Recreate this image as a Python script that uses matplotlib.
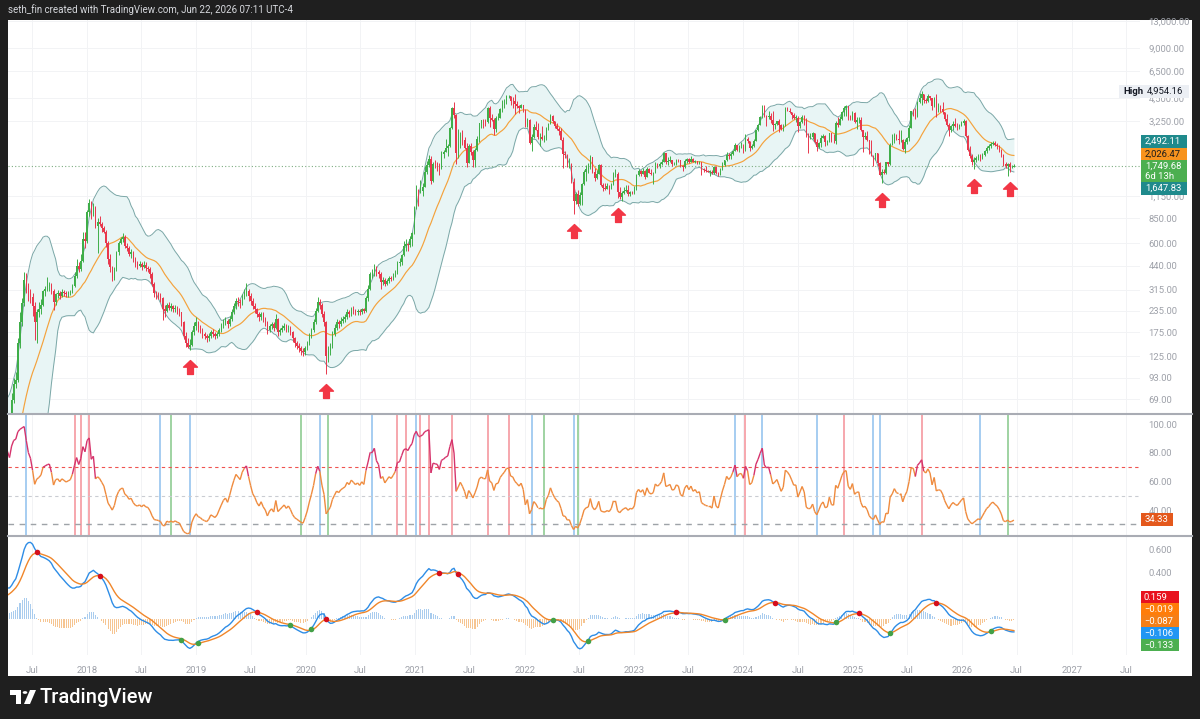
import numpy as np
import pandas as pd
import matplotlib
matplotlib.use("Agg")
import matplotlib.pyplot as plt
import matplotlib.dates as mdates
import matplotlib.transforms as mtransforms
from matplotlib.collections import LineCollection
from matplotlib.patches import Rectangle, Polygon, Circle
from matplotlib.lines import Line2D
from matplotlib.path import Path
from matplotlib.ticker import FuncFormatter, NullLocator

plt.rcParams['font.family'] = ['Roboto', 'DejaVu Sans']

W, H = 1200, 719
BG = '#1f1f1f'
UP, DOWN = '#3fae49', '#e8374c'

# ---------------- data (weekly candles) ----------------
first_week = '2017-04-24'

# closes before the first visible week (only feed the indicators)
warmup_close = [20, 24, 19, 18, 17, 18, 19, 18, 17, 17, 17, 17.5, 18, 18, 18.5,
                19, 19, 18.5, 18.5, 18, 17.5, 17, 17, 16.5, 16.5, 16, 16, 16, 16, 16.5,
                17, 18, 19, 22, 27, 33, 38, 42, 44, 40, 45, 48, 44, 49, 52, 50]

close = [
    68, 85, 90, 150, 200, 260, 360, 330, 300, 285,
    250, 200, 230, 240, 255, 310, 320, 330, 335, 310,
    265, 295, 300, 290, 305, 300, 295, 300, 305, 330,
    380, 440, 420, 470, 640, 620, 920, 1050, 900, 980,
    760, 800, 780, 740, 700, 600, 480, 430, 370, 420,
    530, 600, 640, 650, 580, 560, 520, 530, 480, 450,
    440, 450, 430, 445, 425, 420, 390, 340, 300, 295,
    290, 280, 240, 235, 255, 245, 250, 240, 245, 235,
    230, 200, 165, 150, 143, 146, 175, 190, 200, 185,
    180, 170, 165, 160, 165, 175, 170, 165, 170, 180,
    190, 200, 205, 195, 210, 230, 250, 270, 265, 260,
    285, 300, 310, 290, 270, 250, 240, 225, 215, 225,
    210, 200, 180, 190, 195, 185, 210, 175, 180, 185,
    190, 180, 185, 175, 160, 150, 145, 140, 135, 132,
    140, 150, 165, 180, 200, 235, 265, 255, 225, 200,
    125, 135, 145, 170, 185, 200, 195, 205, 210, 215,
    230, 225, 240, 235, 230, 235, 230, 240, 235, 280,
    320, 390, 390, 430, 400, 390, 350, 360, 340, 355,
    370, 365, 380, 400, 455, 460, 510, 575, 590, 585,
    640, 690, 975, 1260, 1230, 1230, 1310, 1610, 1780, 1935,
    1420, 1800, 1790, 1780, 1700, 2080, 2140, 2240, 2300, 2950,
    3900, 3570, 2100, 2380, 2710, 2510, 2250, 1830, 2320, 2130,
    1890, 2190, 2560, 3160, 3310, 3240, 3230, 3940, 3410, 3330,
    2930, 3390, 3420, 3850, 4080, 4290, 4610, 4640, 4320, 4290,
    4110, 4020, 3920, 4070, 3830, 3090, 3330, 2410, 2610, 3020,
    2880, 2620, 2620, 2550, 2580, 2950, 3140, 3520, 3260, 3060,
    2920, 2830, 2520, 2060, 2040, 1790, 1800, 1400, 1080, 1180,
    1040, 1170, 1360, 1600, 1680, 1700, 1990, 1620, 1490, 1570,
    1770, 1340, 1290, 1280, 1320, 1280, 1360, 1570, 1570, 1220,
    1140, 1200, 1240, 1260, 1180, 1220, 1200, 1260, 1550, 1630,
    1570, 1630, 1510, 1690, 1590, 1560, 1590, 1790, 1750, 1790,
    1860, 2090, 1850, 1870, 1900, 1800, 1810, 1910, 1890, 1750,
    1720, 1870, 1930, 1860, 1930, 1850, 1880, 1830, 1850, 1680,
    1650, 1630, 1620, 1620, 1590, 1730, 1580, 1550, 1660, 1780,
    1890, 2050, 2010, 2060, 2170, 2350, 2200, 2270, 2280, 2220,
    2530, 2470, 2260, 2300, 2490, 2880, 3110, 3470, 3880, 3520,
    3450, 3500, 3320, 3080, 3150, 3250, 3100, 2940, 3070, 3830,
    3780, 3700, 3570, 3420, 3430, 3060, 3240, 3440, 3270, 2680,
    2610, 2620, 2750, 2430, 2280, 2420, 2580, 2660, 2440, 2460,
    2750, 2480, 2460, 3180, 3080, 3360, 3710, 3940, 4000, 3480,
    3360, 3640, 3210, 3300, 3320, 2870, 2630, 2660, 2500, 2170,
    2020, 1960, 2090, 1820, 1550, 1620, 1590, 1840, 1810, 2350,
    2470, 2680, 2540, 2510, 2510, 2230, 2430, 2580, 2970, 3760,
    3750, 3490, 4270, 4480, 4780, 4380, 4310, 4620, 4470, 4000,
    4480, 3830, 3900, 3880, 3700, 3350, 3100, 2880, 3050, 3150,
    3050, 3000, 3100, 3200, 3280, 2650, 2200, 2000, 1850, 1900,
    1950, 2000, 1950, 2050, 2150, 2250, 2300, 2380, 2420, 2350,
    2300, 2200, 2050, 1800, 1760, 1790, 1720, 1730, 1749.68,
]

high = [
    75, 92, 100, 160, 230, 280, 400, 395, 345, 320,
    300, 265, 240, 265, 275, 315, 330, 375, 350, 345,
    320, 300, 315, 310, 320, 315, 310, 310, 315, 340,
    400, 480, 460, 520, 700, 700, 950, 1110, 1080, 1050,
    1000, 850, 870, 800, 760, 720, 620, 520, 440, 430,
    540, 620, 650, 690, 670, 600, 575, 550, 540, 495,
    470, 470, 465, 470, 460, 440, 430, 400, 350, 310,
    305, 300, 285, 255, 260, 265, 260, 255, 255, 250,
    245, 232, 205, 175, 160, 158, 180, 200, 215, 205,
    192, 185, 175, 170, 172, 180, 182, 175, 176, 185,
    198, 210, 215, 210, 218, 240, 262, 280, 285, 275,
    295, 320, 345, 320, 300, 280, 262, 245, 232, 232,
    230, 215, 205, 196, 202, 200, 225, 212, 185, 192,
    198, 195, 192, 190, 178, 163, 155, 150, 145, 140,
    145, 155, 172, 185, 210, 245, 285, 275, 260, 235,
    205, 145, 150, 178, 195, 210, 208, 215, 218, 225,
    240, 238, 248, 250, 242, 242, 240, 245, 245, 290,
    335, 400, 420, 450, 440, 415, 400, 375, 370, 365,
    380, 380, 395, 415, 470, 490, 520, 620, 635, 600,
    665, 700, 1000, 1350, 1280, 1440, 1380, 1750, 1880, 2040,
    2000, 1860, 1900, 1850, 1820, 2150, 2200, 2560, 2370, 2990,
    3990, 4270, 3600, 2910, 2800, 2880, 2620, 2400, 2380, 2410,
    2200, 2250, 2650, 3180, 3330, 3340, 3380, 3960, 4000, 3600,
    3400, 3480, 3640, 3900, 4370, 4460, 4660, 4720, 4650, 4560,
    4780, 4320, 4100, 4150, 4100, 3850, 3410, 3350, 2740, 3150,
    3280, 3200, 2760, 3040, 2700, 3000, 3200, 3580, 3550, 3290,
    3180, 3000, 2970, 2600, 2160, 2060, 1960, 1820, 1480, 1220,
    1250, 1220, 1380, 1650, 1780, 1820, 2030, 1990, 1700, 1660,
    1790, 1790, 1390, 1390, 1380, 1340, 1380, 1620, 1680, 1600,
    1300, 1230, 1300, 1350, 1340, 1230, 1230, 1330, 1560, 1680,
    1660, 1700, 1650, 1720, 1700, 1680, 1600, 1840, 1830, 1840,
    1940, 2140, 2100, 1970, 2010, 1910, 1850, 1920, 1930, 1890,
    1780, 1930, 1950, 1960, 2020, 1960, 1890, 1880, 1870, 1860,
    1700, 1750, 1650, 1660, 1660, 1750, 1750, 1600, 1700, 1860,
    1900, 2140, 2090, 2130, 2190, 2400, 2350, 2350, 2440, 2360,
    2720, 2600, 2470, 2390, 2530, 2900, 3120, 3520, 4090, 4090,
    3550, 3730, 3660, 3730, 3200, 3290, 3350, 3120, 3130, 3950,
    3980, 3890, 3720, 3630, 3550, 3520, 3280, 3560, 3550, 3400,
    2760, 2780, 2800, 2760, 2550, 2440, 2700, 2730, 2700, 2500,
    2770, 2760, 2720, 3250, 3450, 3500, 3740, 4000, 4100, 4000,
    3540, 3740, 3700, 3450, 3450, 3440, 2870, 2820, 2850, 2500,
    2500, 2030, 2100, 2100, 1850, 1690, 1690, 1850, 1860, 2400,
    2730, 2770, 2730, 2880, 2880, 2550, 2530, 2620, 3080, 3780,
    3860, 3940, 4330, 4790, 4954.16, 4780, 4500, 4770, 4650, 4500,
    4550, 4750, 4200, 4100, 4250, 3700, 3600, 3200, 3100, 3250,
    3400, 3200, 3150, 3250, 3350, 3300, 2700, 2300, 2080, 1980,
    2020, 2080, 2060, 2100, 2200, 2300, 2380, 2430, 2480, 2460,
    2400, 2330, 2230, 2080, 1850, 1820, 1850, 1780, 1800,
]

low = [
    48, 65, 80, 88, 140, 190, 250, 300, 270, 260,
    220, 157, 150, 215, 225, 250, 290, 310, 310, 295,
    238, 255, 280, 275, 285, 290, 285, 285, 292, 300,
    325, 370, 400, 410, 460, 560, 600, 880, 840, 880,
    740, 523, 760, 700, 690, 570, 450, 400, 355, 360,
    410, 510, 590, 610, 560, 540, 500, 490, 460, 430,
    420, 430, 415, 425, 410, 400, 370, 330, 285, 275,
    275, 265, 207, 215, 230, 238, 235, 232, 232, 225,
    220, 190, 158, 143, 140, 137, 144, 168, 180, 175,
    172, 162, 158, 152, 155, 160, 164, 158, 160, 166,
    176, 185, 192, 185, 190, 205, 225, 240, 250, 245,
    255, 275, 290, 270, 255, 240, 228, 215, 205, 208,
    200, 190, 170, 175, 183, 178, 182, 165, 168, 175,
    180, 174, 175, 168, 152, 143, 138, 133, 128, 126,
    128, 136, 146, 160, 176, 195, 230, 240, 215, 190,
    98, 115, 128, 140, 165, 180, 185, 190, 198, 202,
    210, 215, 220, 225, 222, 222, 222, 225, 228, 232,
    270, 315, 370, 380, 380, 370, 320, 335, 330, 335,
    345, 355, 360, 375, 390, 440, 445, 500, 540, 540,
    570, 580, 680, 960, 1000, 1200, 1160, 1300, 1560, 1730,
    1370, 1410, 1700, 1640, 1550, 1690, 1950, 2120, 2000, 2280,
    2940, 3430, 1800, 1950, 2250, 2330, 2220, 1720, 1820, 2050,
    1720, 1730, 2170, 2450, 2960, 2950, 3060, 3200, 3000, 3270,
    2700, 2800, 3300, 3400, 3700, 3900, 4150, 4500, 4100, 3930,
    3600, 3900, 3650, 3900, 3680, 3000, 3000, 2380, 2160, 2580,
    2870, 2560, 2300, 2520, 2450, 2500, 2880, 3130, 3170, 2950,
    2890, 2700, 2500, 1700, 1950, 1730, 1700, 1380, 900, 1040,
    1000, 1020, 1020, 1350, 1420, 1580, 1680, 1580, 1420, 1470,
    1560, 1330, 1240, 1260, 1270, 1190, 1270, 1350, 1500, 1120,
    1110, 1070, 1190, 1220, 1160, 1160, 1190, 1190, 1260, 1520,
    1530, 1560, 1460, 1500, 1580, 1540, 1370, 1580, 1700, 1700,
    1780, 1850, 1800, 1780, 1840, 1740, 1780, 1770, 1860, 1720,
    1630, 1710, 1820, 1830, 1850, 1840, 1820, 1810, 1800, 1550,
    1610, 1610, 1600, 1530, 1570, 1570, 1570, 1520, 1540, 1650,
    1760, 1880, 1940, 1930, 2040, 2160, 2150, 2140, 2260, 2100,
    2170, 2410, 2170, 2230, 2280, 2470, 2850, 3080, 3420, 3460,
    3060, 3380, 3200, 2850, 2920, 3080, 2820, 2870, 2860, 3060,
    3740, 3630, 3350, 3360, 3240, 2820, 2980, 3200, 3100, 2630,
    2110, 2560, 2540, 2400, 2150, 2260, 2270, 2570, 2310, 2350,
    2440, 2440, 2420, 2360, 3000, 3080, 3300, 3500, 3520, 3300,
    3310, 3300, 3160, 2920, 3160, 2850, 2120, 2550, 2470, 2080,
    2000, 1760, 1890, 1760, 1540, 1390, 1560, 1570, 1750, 1780,
    2350, 2420, 2500, 2380, 2430, 2180, 2110, 2370, 2490, 2950,
    3500, 3350, 3450, 4200, 4070, 4200, 4220, 4270, 4400, 3820,
    3980, 3450, 3710, 3700, 3600, 3250, 3050, 2650, 2800, 2900,
    3000, 2900, 2920, 3050, 3100, 2600, 2150, 1950, 1780, 1680,
    1850, 1900, 1880, 1920, 2000, 2100, 2200, 2250, 2330, 2300,
    2230, 2120, 1980, 1750, 1700, 1530, 1610, 1700, 1720,
]

# signal events
rsi_red_weeks = ['2017-11-20', '2017-12-11', '2018-01-08', '2020-11-02', '2020-11-30',
                 '2021-01-18', '2021-02-15', '2021-05-03', '2021-08-30', '2021-11-08',
                 '2024-01-08', '2024-12-02', '2025-08-18']
rsi_blue_weeks = ['2017-06-12', '2018-09-03', '2018-12-10', '2020-02-17', '2020-08-10',
                  '2021-01-04', '2022-01-24', '2022-06-13', '2023-12-04', '2024-03-04',
                  '2024-09-02', '2025-03-10', '2025-03-31', '2026-03-02']
rsi_green_weeks = ['2018-10-08', '2019-12-16', '2020-03-16', '2022-03-07', '2022-06-27',
                   '2026-06-01']
macd_red_weeks = ['2017-07-17', '2018-02-12', '2019-07-22', '2020-03-09', '2021-03-22',
                  '2021-05-24', '2023-05-22', '2024-04-15', '2025-01-20', '2025-10-06']
macd_green_weeks = ['2018-11-12', '2019-01-07', '2019-11-11', '2020-01-20', '2022-04-04',
                    '2022-08-01', '2023-10-30', '2024-11-04', '2025-05-05', '2026-04-06']
arrow_weeks = ['2018-12-10', '2020-03-09', '2022-06-13', '2022-11-07', '2025-04-07',
               '2026-02-09', '2026-06-08']

price_ticks = [69, 93, 125, 175, 235, 315, 440, 600, 850, 1150, 3250, 4500, 6500, 9000, 13000]
rsi_ticks = [100, 80, 60, 40]
macd_ticks = [0.6, 0.4]

# ---------------- indicators ----------------
n_warm = len(warmup_close)
start = pd.Timestamp(first_week)
all_dates = pd.date_range(end=start - pd.Timedelta(days=7), periods=n_warm, freq='7D').append(
    pd.date_range(start, periods=len(close), freq='7D'))
x_all = mdates.date2num(all_dates.to_pydatetime())
x_c = x_all[n_warm:]

all_close = np.array(warmup_close + close, dtype=float)

# bollinger bands on log price
lg = pd.Series(np.log10(all_close))
basis = lg.rolling(20).mean()
dev = lg.rolling(20).std(ddof=0)
bb_mid = 10 ** basis
bb_up = 10 ** (basis + 2 * dev)
bb_lo = 10 ** (basis - 2 * dev)

# macd on ln price
ln = pd.Series(np.log(all_close))
macd = ln.ewm(span=12, adjust=False).mean() - ln.ewm(span=26, adjust=False).mean()
signal = macd.ewm(span=9, adjust=False).mean()
hist = (macd - signal).values
macd = macd.values
signal = signal.values

delta = pd.Series(all_close).diff()
avg_g = delta.clip(lower=0).ewm(alpha=1 / 14, adjust=False).mean()
avg_l = (-delta.clip(upper=0)).ewm(alpha=1 / 14, adjust=False).mean()
rsi = (100 - 100 / (1 + avg_g / avg_l)).values

cl = np.array(close, dtype=float)
op = np.r_[warmup_close[-1], cl[:-1]]
hi = np.maximum.reduce([np.array(high, dtype=float), op, cl])
lo = np.minimum.reduce([np.array(low, dtype=float), op, cl])


def week_num(d):
    return mdates.date2num(pd.Timestamp(d).to_pydatetime())


def week_idx(d):
    return all_dates.get_loc(pd.Timestamp(d))


# ---------------- figure ----------------
fig = plt.figure(figsize=(W / 100, H / 100), dpi=100, facecolor=BG)


def rect(x0, y0, x1, y1):
    return [x0 / W, 1 - y1 / H, (x1 - x0) / W, (y1 - y0) / H]


fig.patches.append(Rectangle((8 / W, 1 - 676 / H), 1184 / W, 656 / H, transform=fig.transFigure,
                             fc='white', ec='none', zorder=-1))

ax_p = fig.add_axes(rect(8, 20, 1140, 413))
ax_r = fig.add_axes(rect(8, 414, 1140, 535), sharex=ax_p)
ax_m = fig.add_axes(rect(8, 536, 1140, 655), sharex=ax_p)

tick_dates, tick_labels = [], []
for yr in range(2017, 2028):
    if yr > 2017:
        tick_dates.append(week_num(f'{yr}-01-01'))
        tick_labels.append(str(yr))
    tick_dates.append(week_num(f'{yr}-07-01'))
    tick_labels.append('Jul')

GRID = '#f2f3f5'
TXT = '#9ea1a9'
for ax in (ax_p, ax_r, ax_m):
    for s in ax.spines.values():
        s.set_visible(False)
    ax.set_facecolor('white')
    ax.yaxis.tick_right()
    ax.tick_params(axis='both', length=0, labelsize=6.8, labelcolor=TXT)
    ax.tick_params(axis='y', pad=6)
    for t in tick_dates:
        ax.axvline(t, color=GRID, lw=0.7, zorder=0)

ax_p.set_xlim(week_num('2017-04-12'), week_num('2027-08-17'))
ax_m.set_xticks(tick_dates)
ax_m.set_xticklabels(tick_labels)
ax_m.tick_params(axis='x', pad=8)
ax_p.tick_params(axis='x', labelbottom=False)
ax_r.tick_params(axis='x', labelbottom=False)

# ---- price pane
ax_p.set_yscale('log')
ax_p.set_ylim(56.9, 13270)
ax_p.set_yticks(price_ticks)
ax_p.yaxis.set_major_formatter(FuncFormatter(lambda v, _: f'{v:,.2f}'))
ax_p.yaxis.set_minor_locator(NullLocator())
for t in price_ticks:
    ax_p.axhline(t, color=GRID, lw=0.7, zorder=0)

ax_p.fill_between(x_all, bb_lo, bb_up, color='#e8f5f5', lw=0, zorder=1)
ax_p.plot(x_all, bb_up, color='#7ba7a7', lw=0.7, zorder=2)
ax_p.plot(x_all, bb_lo, color='#7ba7a7', lw=0.7, zorder=2)
ax_p.plot(x_all, bb_mid, color='#f4a23c', lw=0.85, zorder=2)
ax_p.axhline(cl[-1], color='#7fae82', lw=0.8, ls=(0, (1, 2)), zorder=2)

colors = np.where(cl >= op, UP, DOWN)
ax_p.vlines(x_c, lo, hi, colors=colors, lw=0.7, zorder=3)
ax_p.bar(x_c, np.maximum(np.abs(cl - op), cl * 0.005), bottom=np.minimum(cl, op),
         width=4.6, color=colors, lw=0, zorder=3)

arrow = Path([(0, 1), (1, 0.05), (0.42, 0.05), (0.42, -1), (-0.42, -1), (-0.42, 0.05),
              (-1, 0.05), (0, 1)],
             [Path.MOVETO] + [Path.LINETO] * 6 + [Path.CLOSEPOLY])
below = mtransforms.offset_copy(ax_p.transData, fig=fig, x=0, y=-17, units='dots')
a_idx = [week_idx(d) - n_warm for d in arrow_weeks]
ax_p.plot(x_c[a_idx], lo[a_idx], ls='none', marker=arrow, ms=10, color='#f23645',
          transform=below, zorder=4)

# ---- RSI pane
ax_r.set_ylim(22.65, 107.0)
ax_r.set_yticks(rsi_ticks)
ax_r.yaxis.set_major_formatter(FuncFormatter(lambda v, _: f'{v:.2f}'))
for wk, col in ((rsi_red_weeks, '#f6a7ad'), (rsi_blue_weeks, '#a6cdf1'),
                (rsi_green_weeks, '#9fd3a2')):
    for d in wk:
        ax_r.axvline(week_num(d), color=col, lw=1.4, zorder=1)
ax_r.axhline(70, color='#ef5350', lw=0.8, ls=(0, (3, 3)), zorder=2)
ax_r.axhline(50, color='#c9ccd2', lw=0.8, ls=(0, (3, 3)), zorder=2)
ax_r.axhline(30, color='#9ea3a8', lw=1.0, ls=(0, (4, 4)), zorder=2)
pts = np.column_stack([x_all, rsi])
segs = np.stack([pts[:-1], pts[1:]], axis=1)
seg_col = np.where(np.maximum(rsi[:-1], rsi[1:]) > 70, '#d6336c', '#ef8b3e')
ax_r.add_collection(LineCollection(segs, colors=seg_col, lw=1.0, zorder=3))

# ---- MACD pane
ax_m.set_ylim(-0.313, 0.7217)
ax_m.set_yticks(macd_ticks)
ax_m.yaxis.set_major_formatter(FuncFormatter(lambda v, _: f'{v:.3f}'))
ax_m.bar(x_all, hist, width=3.6, color=np.where(hist >= 0, '#a9ccee', '#f6c592'), lw=0, zorder=1)
ax_m.plot(x_all, macd, color='#2e8de6', lw=1.0, zorder=2)
ax_m.plot(x_all, signal, color='#f0862a', lw=1.0, zorder=2)
for wk, col in ((macd_red_weeks, '#d50f1c'), (macd_green_weeks, '#43a047')):
    idx = [week_idx(d) for d in wk]
    ax_m.scatter(x_all[idx], (macd[idx] + signal[idx]) / 2, s=16, color=col, zorder=3, lw=0)

# ---------------- frame, separators, scale labels ----------------
for yy in (413.5, 535.5):
    fig.add_artist(Line2D([8 / W, 1192 / W], [1 - yy / H] * 2, color='#a9acb4', lw=1.5))


def box(x0, y0, x1, y1, fc):
    fig.patches.append(Rectangle((x0 / W, 1 - y1 / H), (x1 - x0) / W, (y1 - y0) / H,
                                 transform=fig.transFigure, fc=fc, ec='none', zorder=5))


def label(x, y, s, color='white', size=6.8, weight='normal'):
    fig.text(x / W, 1 - y / H, s, ha='left', va='center', color=color, fontsize=size,
             fontweight=weight, zorder=6)


box(1119, 84.5, 1189, 97.5, '#eceff4')
label(1123, 91, 'High', color='#131722', weight='bold')
label(1147, 91, '4,954.16', color='#131722')

box(1141, 134.5, 1187, 147.5, '#1f8a8c')
label(1145, 141, '2,492.11')
box(1141, 147.5, 1187, 160.5, '#f7931e')
label(1145, 154, '2,026.47', color='#1b1b1b')
box(1141, 160.5, 1187, 182, '#4caf50')
label(1145, 166, '1,749.68')
label(1145, 176.5, '6d 13h')
box(1141, 182, 1187, 195, '#1f8a8c')
label(1145, 188.5, '1,647.83')

box(1141, 512.5, 1173, 525.5, '#e4581c')
label(1145, 519, '34.33')

for yc, txt, fc in ((597, '0.159', '#e8121e'), (609, '\u22120.019', '#ff7d0a'),
                    (621, '\u22120.087', '#f57f17'), (633, '\u22120.106', '#2196f3'),
                    (645, '\u22120.133', '#4caf50')):
    box(1141, yc - 6, 1179, yc + 6, fc)
    label(1144, yc, txt)

fig.text(8 / W, 1 - 10 / H, 'seth_fin created with TradingView.com, Jun 22, 2026 07:11 UTC-4',
         ha='left', va='center', color='#d6d8dd', fontsize=7)

# TradingView logo
fig.patches.append(Polygon([(10 / W, 1 - 690 / H), (21 / W, 1 - 690 / H), (21 / W, 1 - 704 / H),
                            (16 / W, 1 - 704 / H), (16 / W, 1 - 695 / H), (10 / W, 1 - 695 / H)],
                           closed=True, transform=fig.transFigure, fc='white', ec='none'))
fig.patches.append(Circle((25 / W, 1 - 692.5 / H), 2.3 / W, transform=fig.transFigure,
                          fc='white', ec='none'))
fig.patches.append(Polygon([(30 / W, 1 - 690 / H), (36 / W, 1 - 690 / H), (30 / W, 1 - 704 / H),
                            (24 / W, 1 - 704 / H)],
                           closed=True, transform=fig.transFigure, fc='white', ec='none'))
fig.text(40 / W, 1 - 697.5 / H, 'TradingView', ha='left', va='center', color='white',
         fontsize=14.5, fontweight='medium')

fig.savefig('out.png', dpi=100, facecolor=BG)
